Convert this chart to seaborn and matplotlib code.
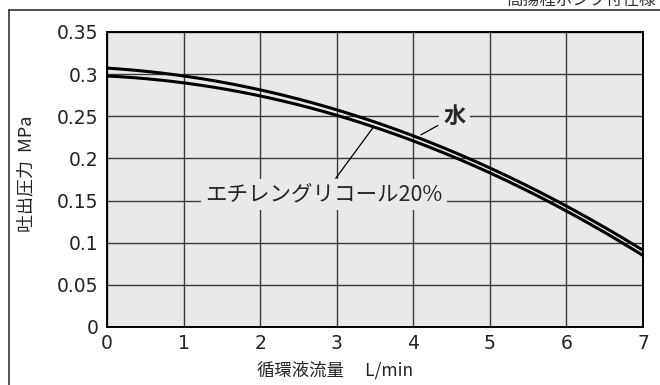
import numpy as np
import pandas as pd
import seaborn as sns
import matplotlib.pyplot as plt
from matplotlib.lines import Line2D

flow = [0, 1, 2, 3, 4, 5, 6, 7]
water = [0.306, 0.299, 0.283, 0.257, 0.225, 0.189, 0.144, 0.091]
glycol = [0.297, 0.290, 0.276, 0.251, 0.219, 0.183, 0.138, 0.085]

x_ticks = [0, 1, 2, 3, 4, 5, 6, 7]
y_ticks = [0, 0.05, 0.1, 0.15, 0.2, 0.25, 0.3, 0.35]
y_labels = ["0", "0.05", "0.1", "0.15", "0.2", "0.25", "0.3", "0.35"]

sns.set_style("ticks")
plt.rcParams["font.family"] = ["DejaVu Sans", "Noto Sans CJK JP"]
jp = ["Noto Sans CJK JP", "DejaVu Sans"]

df = pd.DataFrame({
    "flow": flow * 2,
    "pressure": water + glycol,
    "fluid": ["水"] * len(flow) + ["エチレングリコール20%"] * len(flow),
})

fig = plt.figure(figsize=(6.6, 3.85), dpi=100)
ax = fig.add_axes([107 / 660, 1 - 327 / 385, 536 / 660, 295 / 385])
ax.set_facecolor("#e8e9e8")

# smooth the read values with a quadratic fit so the curves look like the chart
xs = np.linspace(0, 7, 200)
for vals in (water, glycol):
    c = np.polyfit(flow, vals, 2)
    sns.lineplot(x=xs, y=np.polyval(c, xs), ax=ax, color="black", lw=2.2, legend=False)

ax.set_xlim(0, 7)
ax.set_ylim(0, 0.35)
ax.set_xticks(x_ticks)
ax.set_yticks(y_ticks)
ax.set_yticklabels(y_labels)
ax.tick_params(length=0, labelsize=13.5, colors="#222222")
ax.tick_params(axis="y", pad=6)
ax.tick_params(axis="x", pad=5)
ax.grid(True, color="#3a3a3a", lw=1.0)
for s in ax.spines.values():
    s.set_color("black")
    s.set_linewidth(1.4)

ax.set_xlabel("循環液流量　 L/min", family=jp, fontsize=12.5, color="#222222", labelpad=1)
ax.xaxis.set_label_coords((335 - 107) / 536, -0.115)
ax.set_ylabel("吐出圧力  MPa", family=jp, fontsize=13, color="#222222")
ax.yaxis.set_label_coords(-(107 - 35) / 536, 0.52)

ax.annotate("水", xy=(4.1, 0.228), xytext=(4.54, 0.25), family=jp, fontsize=16,
            fontweight="bold", ha="center", va="center",
            bbox=dict(boxstyle="square,pad=0.2", fc="#e8e9e8", ec="none"),
            arrowprops=dict(arrowstyle="-", color="black", lw=0.9, shrinkA=1, shrinkB=0))
ax.annotate("エチレングリコール20%", xy=(3.47, 0.236), xytext=(2.83, 0.157), family=jp,
            fontsize=15.5, ha="center", va="center",
            bbox=dict(boxstyle="square,pad=0.2", fc="#e8e9e8", ec="none"),
            arrowprops=dict(arrowstyle="-", color="black", lw=0.9, shrinkA=1, shrinkB=0))

fig.add_artist(Line2D([9 / 660, 1], [1 - 10 / 385] * 2, color="#333333", lw=1.2))
fig.add_artist(Line2D([9 / 660] * 2, [0, 1 - 10 / 385], color="#333333", lw=1.2))
fig.text(0.995, 1.0, "高揚程ポンプ付仕様", family=jp, fontsize=12, ha="right", va="center",
         color="#333333")

fig.savefig("out.png", dpi=100)
